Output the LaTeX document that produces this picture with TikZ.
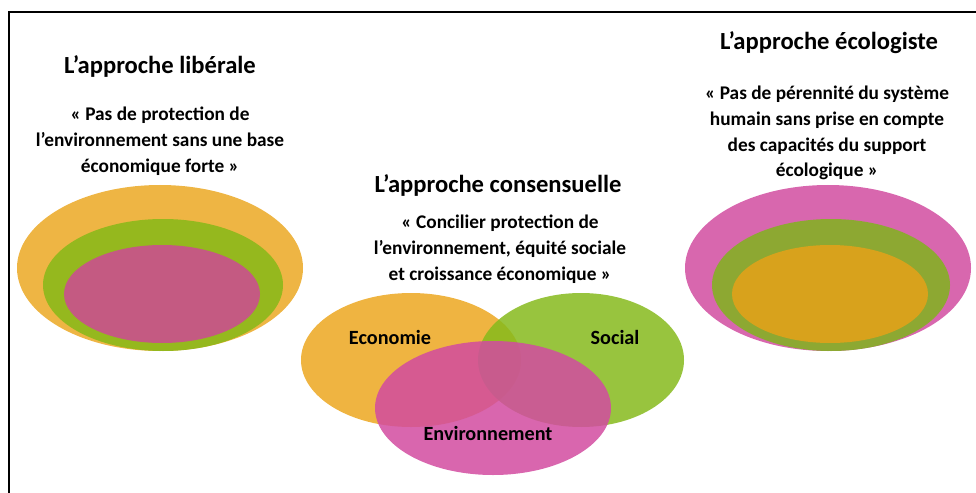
\documentclass[tikz,border=0pt]{standalone}
\usepackage{fontspec}
\setmainfont{Carlito}
\usepackage{tikz}

% couleurs
\definecolor{orangeL}{HTML}{EEB544}
\definecolor{vertL}{HTML}{95B81E}
\definecolor{roseL}{HTML}{C45A82}
\definecolor{roseE}{HTML}{D867AE}
\definecolor{vertE}{HTML}{8DA832}
\definecolor{orangeE}{HTML}{D8A21C}
\definecolor{orangeC}{HTML}{EFB441}
\definecolor{vertC}{HTML}{86BA1C}
\definecolor{roseC}{HTML}{D24BA0}

\tikzset{
	titre/.style={font=\fontsize{14}{17}\selectfont\bfseries},
	citation/.style={font=\fontsize{11}{14.7}\selectfont\bfseries, align=center},
	etiquette/.style={font=\fontsize{11.5}{14}\selectfont\bfseries}
}

\begin{document}
\begin{tikzpicture}[x=0.02cm, y=-0.02cm]
	\useasboundingbox (0,0) rectangle (976,493);

	% Cadre (haut et gauche seulement)
	\draw[line width=1.2pt] (9,493) -- (9,12) -- (976,12);

	% Approche liberale
	\node[titre] (titreLib) at (160,66) {L’approche libérale};
	\node[citation] (citLib) at (160,141) {« Pas de protection de\\l’environnement sans une base\\économique forte »};
	\fill[orangeL] (160,268) ellipse (143 and 83);
	\fill[vertL] (163,285) ellipse (120 and 66);
	\fill[roseL] (162,294) ellipse (98 and 49);

	% Approche ecologiste
	\node[titre] (titreEco) at (829,43) {L’approche écologiste};
	\node[citation] (citEco) at (827,133) {« Pas de pérennité du système\\humain sans prise en compte\\des capacités du support\\écologique »};
	\fill[roseE] (828,268) ellipse (143 and 83);
	\fill[vertE] (831,285) ellipse (119 and 66);
	\fill[orangeE] (830,294) ellipse (98 and 49);

	% Approche consensuelle
	\node[titre] (titreCons) at (498,185) {L’approche consensuelle};
	\node[citation] (citCons) at (500,249) {« Concilier protection de\\l’environnement, équité sociale\\et croissance économique »};
	\fill[orangeC] (411,360) ellipse (110 and 67);
	\fill[vertC, fill opacity=0.85] (581,360) ellipse (103 and 67);
	\fill[roseC, fill opacity=0.85] (493,408) ellipse (118 and 67);
	\node[etiquette] (eco) at (390,337) {Economie};
	\node[etiquette] (soc) at (615,337) {Social};
	\node[etiquette] (env) at (488,433) {Environnement};

\end{tikzpicture}
\end{document}
